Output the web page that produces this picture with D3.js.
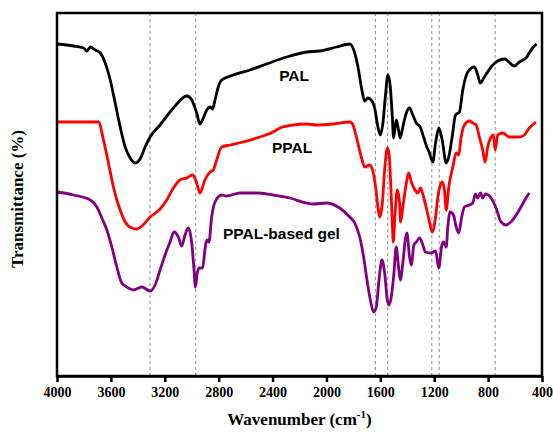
<!DOCTYPE html>
<html>
<head>
<meta charset="utf-8">
<script src="https://cdn.jsdelivr.net/npm/d3@7"></script>
<style>
  body { margin: 0; background: #fff; }
</style>
</head>
<body>
<div id="chart"></div>
<script>
// spectra: [wavenumber (cm-1), transmittance (a.u.)]
var palData = [
  [4000,332],[3877,330],[3803,328],[3778,325],[3753,329],[3716,326],[3679,323],[3642,313],
  [3605,296],[3568,273],[3531,249],[3494,229],[3457,218],[3420,213],[3383,217],[3346,229],
  [3309,239],[3235,251],[3136,268],[3037,280],[3000,276],[2963,263],[2939,252],[2914,258],
  [2889,266],[2864,269],[2845,267],[2827,276],[2803,289],[2778,296],[2692,301],[2568,306],
  [2445,312],[2296,319],[2148,324],[2050,325],[1926,329],[1827,332],[1790,323],[1766,309],
  [1741,289],[1716,275],[1692,278],[1667,276],[1642,268],[1618,249],[1600,241],[1581,253],
  [1563,279],[1544,301],[1526,289],[1511,259],[1502,238],[1482,256],[1465,246],[1452,238],
  [1433,249],[1407,263],[1383,268],[1359,261],[1333,253],[1304,249],[1279,239],[1255,229],
  [1235,223],[1211,214],[1190,233],[1166,248],[1141,236],[1111,213],[1092,219],[1067,239],
  [1042,261],[1013,264],[988,286],[951,304],[902,309],[877,301],[859,293],[828,299],
  [778,309],[729,315],[679,317],[605,310],[568,314],[519,318],[470,328],[440,332]
];

var ppalData = [
  [4000,254],[3692,254],[3655,236],[3618,213],[3581,189],[3556,176],[3531,166],[3494,154],
  [3444,148],[3407,147],[3370,150],[3309,159],[3235,167],[3185,176],[3136,188],[3087,196],
  [3037,198],[2993,201],[2963,193],[2939,183],[2902,196],[2864,204],[2840,206],[2815,216],
  [2778,229],[2716,231],[2618,234],[2519,238],[2396,244],[2346,248],[2247,251],[2148,252],
  [2074,251],[1951,252],[1827,254],[1803,251],[1778,239],[1741,219],[1716,209],[1679,211],
  [1654,204],[1635,189],[1618,169],[1605,159],[1585,173],[1568,206],[1548,228],[1536,223],
  [1524,196],[1511,153],[1504,134],[1492,159],[1474,186],[1457,173],[1450,154],[1433,169],
  [1407,193],[1390,203],[1370,194],[1351,188],[1322,183],[1302,188],[1279,179],[1255,166],
  [1235,154],[1215,144],[1190,159],[1173,179],[1141,194],[1124,186],[1111,166],[1092,189],
  [1062,209],[1037,223],[1018,221],[1000,239],[976,251],[939,255],[914,253],[889,251],
  [865,239],[840,226],[822,214],[803,229],[778,239],[761,241],[748,226],[729,241],
  [692,243],[642,239],[568,239],[531,241],[494,248],[445,254]
];

var gelData = [
  [4000,184],[3877,181],[3753,176],[3704,169],[3667,158],[3630,146],[3593,129],[3556,109],
  [3519,93],[3470,88],[3433,86],[3370,89],[3309,85],[3272,91],[3235,106],[3198,121],
  [3161,134],[3131,144],[3099,139],[3074,130],[3050,141],[3025,148],[3000,133],[2983,106],
  [2973,89],[2959,103],[2944,108],[2919,108],[2902,126],[2889,136],[2872,134],[2852,159],
  [2827,174],[2778,181],[2741,180],[2642,183],[2519,183],[2396,181],[2272,178],[2148,173],
  [2099,172],[2000,173],[1902,168],[1827,159],[1790,153],[1753,139],[1724,119],[1699,96],
  [1674,76],[1650,64],[1630,69],[1610,96],[1588,116],[1568,103],[1548,76],[1536,71],
  [1519,79],[1499,103],[1482,129],[1465,109],[1452,96],[1433,113],[1413,138],[1403,143],
  [1383,119],[1370,111],[1351,131],[1333,134],[1309,138],[1289,133],[1265,124],[1222,123],
  [1190,125],[1166,108],[1146,129],[1131,134],[1111,129],[1099,149],[1082,164],[1057,161],
  [1037,149],[1018,143],[996,159],[976,169],[939,171],[914,173],[894,182],[877,178],
  [857,183],[840,178],[820,182],[778,178],[741,168],[704,154],[667,151],[618,156],
  [556,169],[519,178],[494,183]
];

var seriesNames = ["PAL", "PPAL", "PPAL-based gel"];
var seriesColors = ["#000000", "#ff0000", "#800080"];
var xTicks = [4000, 3600, 3200, 2800, 2400, 2000, 1600, 1200, 800, 400];
var markerLines = [3310, 2970, 1637, 1545, 1218, 1163, 748];

var svgWidth = 553;
var svgHeight = 432;
var margin = { top: 13, right: 11, bottom: 56, left: 57 };
var width = svgWidth - margin.left - margin.right;
var height = svgHeight - margin.top - margin.bottom;

var svg = d3.select("#chart")
  .append("svg")
  .attr("width", svgWidth)
  .attr("height", svgHeight);

var chartGroup = svg.append("g")
  .attr("transform", `translate(${margin.left}, ${margin.top})`);

// wavenumber runs right to left
var xScale = d3.scaleLinear().domain([4000, 400]).range([0, width]);
var yScale = d3.scaleLinear().domain([0, 363]).range([height, 0]);

// dashed marker lines
chartGroup.append("g")
  .selectAll("line")
  .data(markerLines)
  .join("line")
  .attr("x1", d => xScale(d))
  .attr("x2", d => xScale(d))
  .attr("y1", 0)
  .attr("y2", height)
  .attr("stroke", "#8a8a8a")
  .attr("stroke-width", 1)
  .attr("stroke-dasharray", "3,3");

// spectra
var line = d3.line()
  .x(d => xScale(d[0]))
  .y(d => yScale(d[1]))
  .curve(d3.curveMonotoneX);

[palData, ppalData, gelData].forEach(function(data, i) {
  chartGroup.append("path")
    .datum(data)
    .attr("d", line)
    .attr("fill", "none")
    .attr("stroke", seriesColors[i])
    .attr("stroke-width", 2.8)
    .attr("stroke-linejoin", "round");
});

// frame
chartGroup.append("rect")
  .attr("x", 0)
  .attr("y", 0)
  .attr("width", width)
  .attr("height", height)
  .attr("fill", "none")
  .attr("stroke", "#000")
  .attr("stroke-width", 2.5);

// bottom axis
var xAxis = chartGroup.append("g")
  .attr("transform", `translate(0, ${height})`)
  .call(d3.axisBottom(xScale).tickValues(xTicks).tickSize(6).tickSizeOuter(0).tickFormat(d3.format("d")));

xAxis.select(".domain").attr("stroke-width", 2.5);
xAxis.selectAll(".tick line").attr("stroke-width", 2.5);
xAxis.selectAll(".tick text")
  .attr("y", 11)
  .style("font-family", "'Liberation Serif', 'Times New Roman', serif")
  .style("font-size", "14px")
  .style("font-weight", "bold")
  .attr("fill", "#000");

// series labels
var labelPos = [[2240, 75], [2255, 147], [2768, 233]];
chartGroup.append("g")
  .selectAll("text")
  .data(seriesNames)
  .join("text")
  .attr("x", (d, i) => xScale(labelPos[i][0]))
  .attr("y", (d, i) => labelPos[i][1] - margin.top)
  .attr("text-anchor", (d, i) => i === 2 ? "start" : "middle")
  .attr("dominant-baseline", "central")
  .style("font-family", "'Liberation Sans', Arial, sans-serif")
  .style("font-size", "15.5px")
  .style("font-weight", "bold")
  .text(d => d);

// axis titles
var xTitle = svg.append("text")
  .attr("x", margin.left + width / 2)
  .attr("y", 425)
  .attr("text-anchor", "middle")
  .style("font-family", "'Liberation Serif', 'Times New Roman', serif")
  .style("font-size", "17px")
  .style("font-weight", "bold");
xTitle.append("tspan").text("Wavenumber (cm");
xTitle.append("tspan").attr("dy", -7).style("font-size", "11px").text("-1");
xTitle.append("tspan").attr("dy", 7).text(")");

svg.append("text")
  .attr("transform", "translate(23, 199) rotate(-90)")
  .attr("text-anchor", "middle")
  .style("font-family", "'Liberation Serif', 'Times New Roman', serif")
  .style("font-size", "17px")
  .style("font-weight", "bold")
  .text("Transmittance (%)");
</script>
</body>
</html>
